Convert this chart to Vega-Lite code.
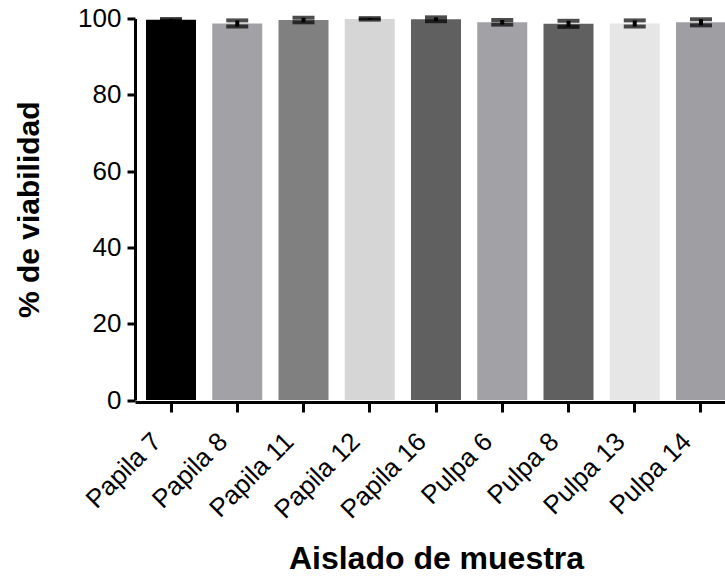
{
  "$schema": "https://vega.github.io/schema/vega-lite/v6.json",
  "autosize": {"type": "none"},
  "padding": {"left": 135, "top": 18.5, "right": 0, "bottom": 177},
  "width": 590,
  "height": 381.5,
  "background": "white",
  "config": {
    "view": {"stroke": null},
    "font": "Liberation Sans",
    "axis": {
      "domainColor": "black",
      "domainWidth": 3,
      "tickColor": "black",
      "tickWidth": 3,
      "labelColor": "black",
      "titleColor": "black",
      "labelFont": "Liberation Sans",
      "titleFont": "Liberation Sans",
      "grid": false
    }
  },
  "data": {
    "values": [
      {"muestra": "Papila 7", "viabilidad": 99.7, "error": 0.2},
      {"muestra": "Papila 8", "viabilidad": 98.7, "error": 0.8},
      {"muestra": "Papila 11", "viabilidad": 99.6, "error": 0.6},
      {"muestra": "Papila 12", "viabilidad": 99.9, "error": 0.2},
      {"muestra": "Papila 16", "viabilidad": 99.8, "error": 0.5},
      {"muestra": "Pulpa 6", "viabilidad": 99.0, "error": 0.6},
      {"muestra": "Pulpa 8", "viabilidad": 98.6, "error": 0.8},
      {"muestra": "Pulpa 13", "viabilidad": 98.7, "error": 0.8},
      {"muestra": "Pulpa 14", "viabilidad": 99.0, "error": 0.8}
    ]
  },
  "encoding": {
    "x": {
      "field": "muestra",
      "type": "nominal",
      "sort": null,
      "scale": {"range": [0, 602], "paddingInner": 0.245, "paddingOuter": 0.166},
      "axis": {
        "title": "Aislado de muestra",
        "titleFontSize": 32,
        "titleFontWeight": "bold",
        "titlePadding": 20,
        "labelAngle": -45,
        "labelFontSize": 26,
        "labelPadding": 16,
        "labelOffset": -23,
        "tickSize": 10,
        "offset": 2
      }
    },
    "y": {
      "field": "viabilidad",
      "type": "quantitative",
      "title": "% de viabilidad",
      "scale": {"domain": [0, 100], "nice": false},
      "axis": {
        "titleFontSize": 30,
        "titleFontWeight": "bold",
        "titlePadding": 33,
        "values": [0, 20, 40, 60, 80, 100],
        "labelFontSize": 26,
        "labelPadding": 6,
        "tickSize": 8
      }
    }
  },
  "layer": [
    {
      "mark": {"type": "bar"},
      "encoding": {
        "color": {
          "field": "muestra",
          "type": "nominal",
          "legend": null,
          "scale": {
            "domain": ["Papila 7", "Papila 8", "Papila 11", "Papila 12", "Papila 16", "Pulpa 6", "Pulpa 8", "Pulpa 13", "Pulpa 14"],
            "range": ["#000000", "#a2a1a6", "#808080", "#d6d6d6", "#606060", "#a2a1a6", "#606060", "#e6e6e6", "#9f9ea3"]
          }
        }
      }
    },
    {
      "mark": {
        "type": "errorbar",
        "color": "black",
        "rule": {"strokeWidth": 4},
        "ticks": {"size": 22, "thickness": 4}
      },
      "encoding": {
        "yError": {"field": "error"}
      }
    }
  ]
}
